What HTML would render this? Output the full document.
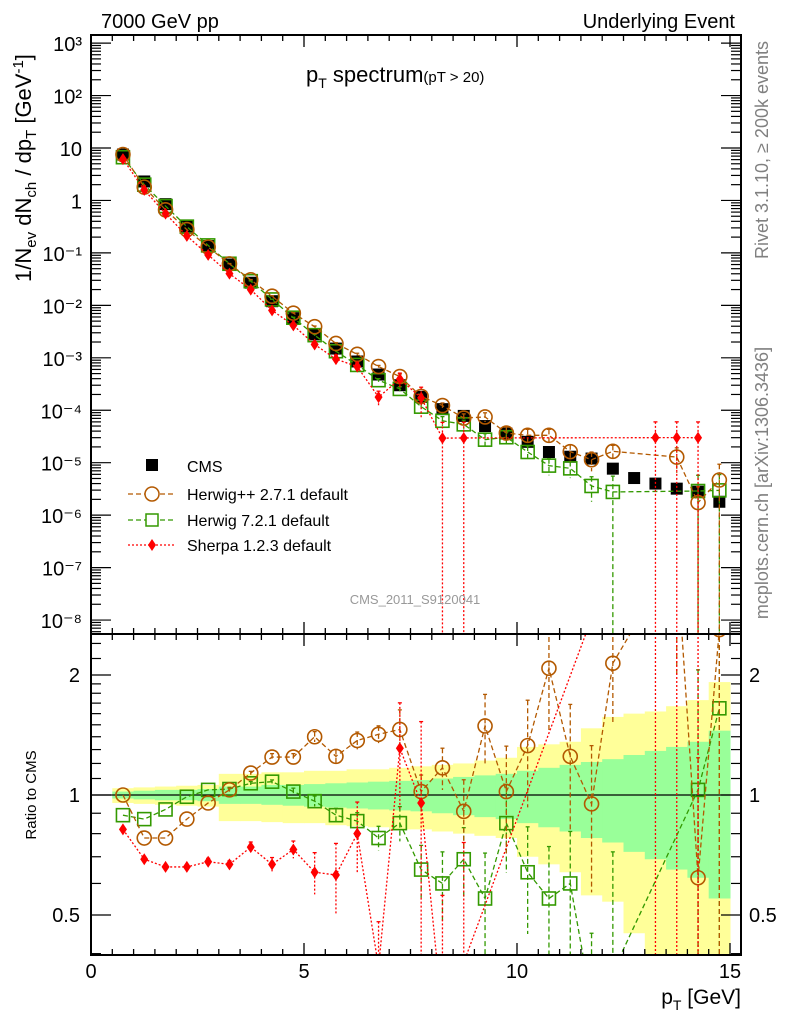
<!DOCTYPE html>
<html><head><meta charset="utf-8">
<style>
html,body{margin:0;padding:0;background:#fff;overflow:hidden;width:786px;height:1024px;}
svg{display:block;font-family:"Liberation Sans",sans-serif;}
</style></head>
<body>
<svg id="chart" width="786" height="1024" viewBox="0 0 786 1024">
<defs>
<clipPath id="clipTop"><rect x="91" y="35" width="650" height="599"/></clipPath>
<clipPath id="clipBot"><rect x="91" y="634" width="650" height="321"/></clipPath>
</defs>
<g id="bands" clip-path="url(#clipBot)"></g>
<g id="marksTop" clip-path="url(#clipTop)"></g>
<g id="marksBot" clip-path="url(#clipBot)"></g>
<g id="axes"></g>
<text x="101" y="28" font-size="20">7000 GeV pp</text>
<text x="735" y="28" font-size="20" text-anchor="end">Underlying Event</text>
<text x="306" y="82" font-size="22">p<tspan font-size="14" dy="6">T</tspan><tspan dy="-6"> spectrum</tspan><tspan font-size="15">(pT &gt; 20)</tspan></text>
<text transform="translate(31,168) rotate(-90)" font-size="22" text-anchor="middle">1/N<tspan font-size="15" dy="5">ev</tspan><tspan dy="-5"> dN</tspan><tspan font-size="15" dy="5">ch</tspan><tspan dy="-5"> / dp</tspan><tspan font-size="15" dy="5">T</tspan><tspan dy="-5"> [GeV</tspan><tspan font-size="15" dy="-8">-1</tspan><tspan dy="8">]</tspan></text>
<text transform="translate(768,150) rotate(-90)" font-size="18" fill="#808080" text-anchor="middle">Rivet 3.1.10, ≥ 200k events</text>
<text transform="translate(768,483) rotate(-90)" font-size="18" fill="#808080" text-anchor="middle">mcplots.cern.ch [arXiv:1306.3436]</text>
<text x="415" y="604" font-size="13" fill="#999" text-anchor="middle">CMS_2011_S9120041</text>
<text transform="translate(36,795) rotate(-90)" font-size="15" text-anchor="middle">Ratio to CMS</text>
<text x="741" y="1004" font-size="21" text-anchor="end">p<tspan font-size="14" dy="6">T</tspan><tspan dy="-6"> [GeV]</tspan></text>
<g id="legend">
<rect x="146" y="459" width="12" height="12" fill="#000"/>
<text x="187" y="472" font-size="16">CMS</text>
<line x1="128" y1="494" x2="176" y2="494" stroke="#b35900" stroke-width="1.3" stroke-dasharray="5,3"/>
<circle cx="152" cy="494" r="7" fill="#fff" stroke="#b35900" stroke-width="1.5"/>
<text x="187" y="500" font-size="16">Herwig++ 2.7.1 default</text>
<line x1="128" y1="520" x2="176" y2="520" stroke="#339900" stroke-width="1.3" stroke-dasharray="5,3"/>
<rect x="146" y="514" width="12" height="12" fill="#fff" stroke="#339900" stroke-width="1.5"/>
<text x="187" y="526" font-size="16">Herwig 7.2.1 default</text>
<line x1="128" y1="545" x2="176" y2="545" stroke="#ff0000" stroke-width="1.3" stroke-dasharray="2,2"/>
<polygon points="152,539 156,545 152,551 148,545" fill="#ff0000"/>
<text x="187" y="551" font-size="16">Sherpa 1.2.3 default</text>
</g>
</svg>
<script>
// ---- data ----
const ptBins = [0.75,1.25,1.75,2.25,2.75,3.25,3.75,4.25,4.75,5.25,5.75,6.25,6.75,7.25,7.75,8.25,8.75,9.25,9.75,10.25,10.75,11.25,11.75,12.25,12.75,13.25,13.75,14.25,14.75];
const cmsValues = [7.5,2.3,0.85,0.32,0.135,0.06,0.027,0.012,0.0057,0.0028,0.0015,0.00085,0.00048,0.0003,0.00018,0.000105,0.000078,0.00005,0.000036,0.000025,0.000016,0.000013,0.000012,0.0000077,0.0000051,0.000004,0.0000032,0.0000028,0.0000018];
const herwigppRatio = [1.0,0.78,0.78,0.87,0.955,1.03,1.135,1.245,1.245,1.40,1.25,1.37,1.42,1.46,1.02,1.17,0.91,1.49,1.02,1.33,2.08,1.25,0.95,2.14,null,null,4.0,0.62,2.6];
const herwigppErr = [0,0,0,0,0,0.01,0.01,0.02,0.02,0.03,0.04,0.05,0.05,0.12,0.1,0.12,0.2,0.2,0.3,0.3,0.3,0.35,0.4,0.3,null,null,0.5,1,1];
const herwig7Ratio = [0.89,0.87,0.92,0.99,1.03,1.035,1.07,1.08,1.02,0.965,0.89,0.86,0.78,0.85,0.65,0.6,0.69,0.55,0.85,0.64,0.55,0.6,0.3,0.36,null,null,null,1.03,1.65];
const herwig7Err = [0,0,0,0,0,0.01,0.01,0.01,0.02,0.03,0.04,0.05,0.07,0.1,0.15,0.2,0.2,0.3,0.25,0.3,0.35,0.35,0.5,1,null,null,null,1,1];
const sherpaRatio = [0.82,0.69,0.66,0.66,0.68,0.67,0.74,0.67,0.73,0.64,0.63,0.8,0.37,1.31,0.955,0.28,0.38,null,null,null,null,null,null,null,null,7.5,9.4,10.7];
const sherpaErr = [0.01,0.01,0.01,0.01,0.02,0.02,0.03,0.04,0.05,0.12,0.2,0.2,0.3,0.3,0.6,1,1,null,null,null,null,null,null,null,null,1,1,1];
const yellowHi = [1.04,1.045,1.05,1.055,1.06,1.13,1.13,1.14,1.14,1.15,1.15,1.16,1.16,1.17,1.18,1.19,1.2,1.22,1.24,1.32,1.34,1.36,1.47,1.57,1.6,1.62,1.67,1.73,1.92];
const yellowLo = [0.955,0.95,0.945,0.94,0.935,0.86,0.86,0.855,0.85,0.85,0.84,0.835,0.83,0.82,0.82,0.81,0.8,0.79,0.78,0.7,0.67,0.64,0.56,0.54,0.45,0.38,0.35,0.35,0.35];
const greenHi = [1.02,1.025,1.03,1.03,1.035,1.05,1.05,1.06,1.06,1.065,1.07,1.075,1.08,1.085,1.09,1.1,1.11,1.12,1.13,1.15,1.17,1.19,1.21,1.23,1.26,1.29,1.32,1.36,1.45];
const greenLo = [0.98,0.975,0.97,0.97,0.965,0.95,0.95,0.945,0.94,0.935,0.93,0.925,0.92,0.915,0.91,0.9,0.89,0.88,0.87,0.85,0.83,0.81,0.78,0.76,0.72,0.69,0.65,0.62,0.55];
const xTickLabels = ["0","5","10","15"];
const yTopLabels = ["10³","10²","10","1","10⁻¹","10⁻²","10⁻³","10⁻⁴","10⁻⁵","10⁻⁶","10⁻⁷","10⁻⁸"];
const yTopExps = [3,2,1,0,-1,-2,-3,-4,-5,-6,-7,-8];
const ratioLabels = ["2","1","0.5"];
const ratioLabelVals = [2,1,0.5];

// ---- axes functions ----
const NS="http://www.w3.org/2000/svg";
function X(v){return 91+v*42.6;}
function YT(v){return 148+(1-Math.log10(v))*52.45;}
function YR(r){return 795-Math.log2(r)*120;}
function mk(tag,attrs,parent){const e=document.createElementNS(NS,tag);for(const k in attrs)e.setAttribute(k,attrs[k]);parent.appendChild(e);return e;}
const axes=document.getElementById('axes'),bands=document.getElementById('bands'),mt=document.getElementById('marksTop'),mb=document.getElementById('marksBot');

for(let i=0;i<ptBins.length;i++){
  const x0=X(ptBins[i]-0.25),w=X(ptBins[i]+0.25)-x0;
  const yb=Math.min(YR(yellowLo[i]),955);
  const y=mk('rect',{x:x0,y:YR(yellowHi[i]),width:w+0.5,height:yb-YR(yellowHi[i]),fill:'#ffff99'},bands);
  
  
}
for(let i=0;i<ptBins.length;i++){
  const x0=X(ptBins[i]-0.25),w=X(ptBins[i]+0.25)-x0;
  const g=mk('rect',{x:x0,y:YR(greenHi[i]),width:w+0.5,height:YR(greenLo[i])-YR(greenHi[i]),fill:'#99ff99'},bands);
  
  
}
const one=mk('line',{x1:91,x2:741,y1:YR(1),y2:YR(1),stroke:'#000','stroke-width':1.3},bands);



function clampY(y,g){const lo=g===mt?35:634,hi=g===mt?634:955;return Math.max(lo-5,Math.min(hi+5,y));}
function series(ratio,err,color,dash,marker,name){
  const ptsT=[],ptsB=[];
  for(let i=0;i<ptBins.length;i++){
    if(ratio[i]==null)continue;
    const v=cmsValues[i]*ratio[i],x=X(ptBins[i]);
    ptsT.push([x,YT(v)]);ptsB.push([x,YR(ratio[i])]);
  }
  [[mt,ptsT],[mb,ptsB]].forEach(([g,p])=>{
    const l=mk('polyline',{points:p.map(q=>q.join(',')).join(' '),fill:'none',stroke:color,'stroke-width':1.3,'stroke-dasharray':dash},g);
    
    
  });
  for(let i=0;i<ptBins.length;i++){
    if(ratio[i]==null)continue;
    const e=err[i]||0,x=X(ptBins[i]);
    const v=cmsValues[i]*ratio[i];
    [[mt,YT,v],[mb,YR,ratio[i]]].forEach(([g,f,val])=>{
      if(e>0){
        const lo=val*(1-e)>0?clampY(f(val*(1-e)),g):clampY(2000,g), hi=clampY(f(val*(1+e)),g);
        const eb=mk('line',{x1:x,x2:x,y1:hi,y2:lo,stroke:color,'stroke-width':1.3,'stroke-dasharray':dash},g);
        
        
        mk('line',{x1:x-2,x2:x+2,y1:hi,y2:hi,stroke:color,'stroke-width':1.3},g);
      }
      const y=f(val);let m;
      if(marker==='circle')m=mk('circle',{cx:x,cy:y,r:7,fill:'none',stroke:color,'stroke-width':1.6},g);
      else if(marker==='square')m=mk('rect',{x:x-6.5,y:y-6.5,width:13,height:13,fill:'none',stroke:color,'stroke-width':1.6},g);
      else m=mk('polygon',{points:`${x},${y-6} ${x+4},${y} ${x},${y+6} ${x-4},${y}`,fill:color},g);
      
      
    });
  }
}
for(let i=0;i<ptBins.length;i++){
  const c=mk('rect',{x:X(ptBins[i])-6,y:YT(cmsValues[i])-6,width:12,height:12,fill:'#000'},mt);
  
  
}
series(herwig7Ratio,herwig7Err,'#339900','5,3','square','herwig7');
series(herwigppRatio,herwigppErr,'#b35900','5,3','circle','herwigpp');
series(sherpaRatio,sherpaErr,'#ff0000','2,2','diamond','sherpa');

[[35,634],[634,955]].forEach(([t,b])=>{
  const f=mk('rect',{x:91,y:t,width:650,height:b-t,fill:'none',stroke:'#000','stroke-width':2},axes);
  
  
});
for(let k=0;k<=30;k++){
  const v=k*0.5,x=X(v),L=(k%10===0)?12:6;
  mk('line',{x1:x,x2:x,y1:634-L,y2:634+L,stroke:'#000','stroke-width':1.3},axes);
  mk('line',{x1:x,x2:x,y1:955,y2:955-L,stroke:'#000','stroke-width':1.3},axes);
  mk('line',{x1:x,x2:x,y1:35,y2:35+L,stroke:'#000','stroke-width':1.3},axes);
}
xTickLabels.forEach((s,i)=>{
  const t=mk('text',{x:X(i*5),y:978,'font-size':20,'text-anchor':'middle'},axes);t.textContent=s;
  
  
});
for(let e=-9;e<=3;e++){
  for(let m=1;m<=9;m++){
    const v=m*Math.pow(10,e),y=YT(v);if(y<35||y>634)continue;
    const L=m===1?20:10;
    mk('line',{x1:91,x2:91+L,y1:y,y2:y,stroke:'#000','stroke-width':1.2},axes);
    mk('line',{x1:741,x2:741-L,y1:y,y2:y,stroke:'#000','stroke-width':1.2},axes);
  }
}
yTopLabels.forEach((s,i)=>{
  const t=mk('text',{x:82,y:YT(Math.pow(10,yTopExps[i]))+8,'font-size':20,'text-anchor':'end'},axes);t.textContent=s;
  
  
});
[0.4,0.5,0.6,0.7,0.8,0.9,1,1.1,1.2,1.3,1.4,1.5,1.6,1.7,1.8,1.9,2,2.2,2.4].forEach(r=>{
  const y=YR(r);if(y<634||y>955)return;
  const L=(r===0.5||r===1||r===2)?20:10;
  mk('line',{x1:91,x2:91+L,y1:y,y2:y,stroke:'#000','stroke-width':1.2},axes);
  mk('line',{x1:741,x2:741-L,y1:y,y2:y,stroke:'#000','stroke-width':1.2},axes);
});
ratioLabels.forEach((s,i)=>{
  const y=YR(ratioLabelVals[i])+7;
  const a=mk('text',{x:80,y:y,'font-size':20,'text-anchor':'end'},axes);a.textContent=s;
  
  
  const b=mk('text',{x:749,y:y,'font-size':20},axes);b.textContent=s;
  
  
});
</script>
</body></html>
